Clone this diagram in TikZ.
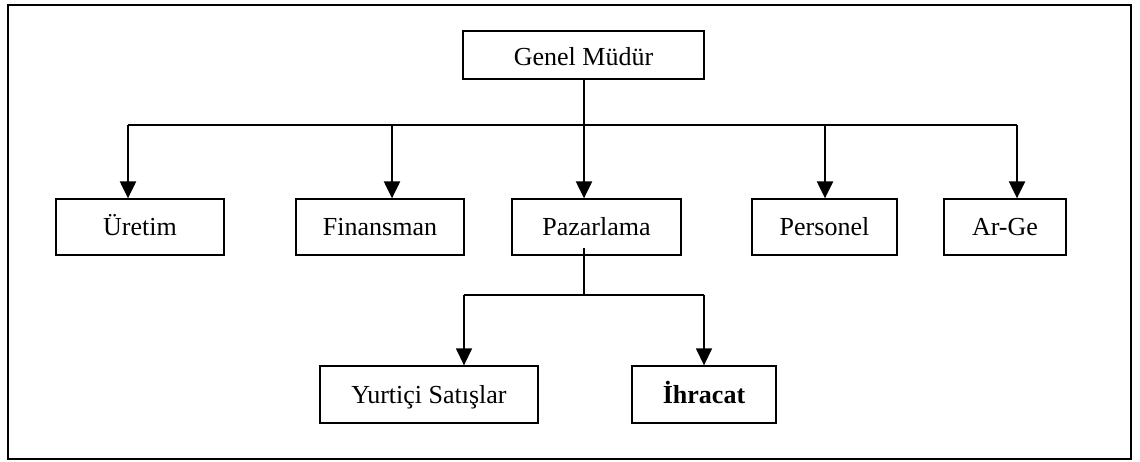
\documentclass[tikz,border=0pt]{standalone}
\usepackage{fontspec}
\setmainfont{Liberation Serif}
\usetikzlibrary{arrows.meta}
\begin{document}
\begin{tikzpicture}[x=1pt,y=-1pt,
  unit/.style={draw,line width=1.3pt,inner sep=0pt,anchor=center,
    font=\fontsize{26}{30}\selectfont,text height=18pt,text depth=2pt},
  bus/.style={line width=1.1pt},
  down/.style={line width=2.2pt,-{Triangle[width=16pt,length=17pt]}}]
\useasboundingbox (0,0) rectangle (1140,461);
\draw[line width=1.5pt] (8,5) rectangle (1131,459);

% top level
\node[unit,minimum width=241pt,minimum height=48pt,text height=23pt,text depth=1.6pt] (gm) at (583.5,55) {Genel Müdür};

% departments
\node[unit,minimum width=168pt,minimum height=56pt] (ure) at (140,227) {Üretim};
\node[unit,minimum width=168pt,minimum height=56pt] (fin) at (380,227) {Finansman};
\node[unit,minimum width=169pt,minimum height=56pt] (paz) at (596.5,227) {Pazarlama};
\node[unit,minimum width=145pt,minimum height=56pt] (per) at (824.5,227) {Personel};
\node[unit,minimum width=122pt,minimum height=56pt] (arge) at (1005,227) {Ar-Ge};

% marketing sub-units
\node[unit,minimum width=218pt,minimum height=57pt,text height=19pt] (yur) at (429,394.5) {Yurtiçi Satışlar};
\node[unit,minimum width=144pt,minimum height=57pt,text height=19pt] (ihr) at (704,394.5) {\bfseries İhracat};

% main bus
\coordinate (b0) at (584,125);
\coordinate (bu) at (128,125);
\coordinate (bf) at (392,125);
\coordinate (bp) at (825,125);
\coordinate (ba) at (1017,125);
\draw[bus] (gm.south -| b0) -- (b0);
\draw[bus] (bu) -- (ba);
\draw[down] (bu) -- (bu |- ure.north);
\draw[down] (bf) -- (bf |- fin.north);
\draw[down] (b0) -- (b0 |- paz.north);
\draw[down] (bp) -- (bp |- per.north);
\draw[down] (ba) -- (ba |- arge.north);

% marketing bus
\coordinate (c0) at (584,295);
\coordinate (cy) at (464,295);
\coordinate (ci) at (704,295);
\draw[bus] ([yshift=8pt]paz.south -| c0) -- (c0);
\draw[bus] (cy) -- (ci);
\draw[down,line width=1.4pt] (cy) -- (cy |- yur.north);
\draw[down,line width=1.4pt] (ci) -- (ci |- ihr.north);
\end{tikzpicture}
\end{document}
